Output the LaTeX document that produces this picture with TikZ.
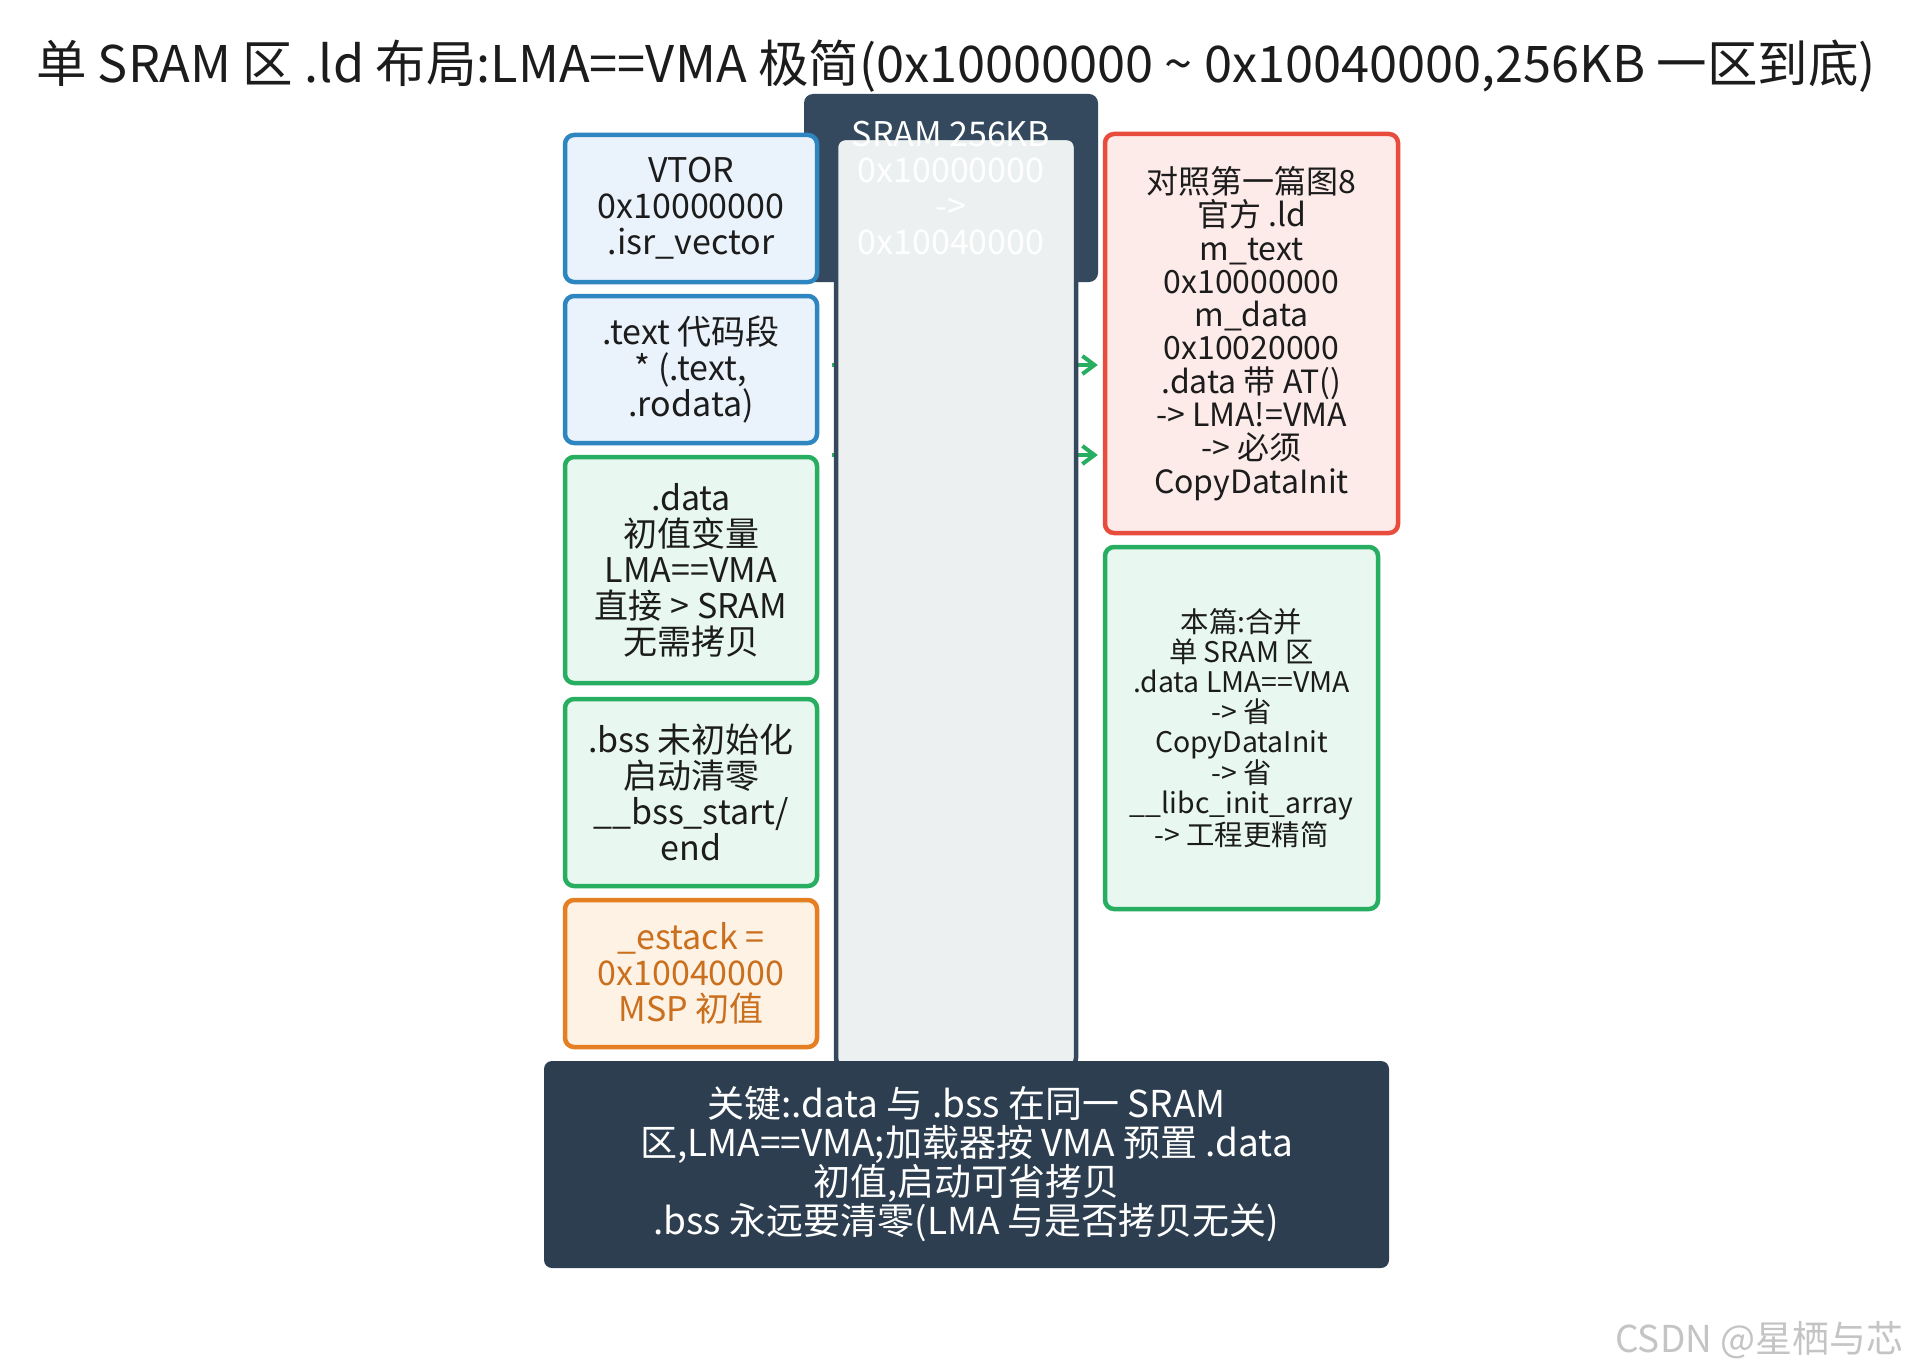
\documentclass[tikz,border=0pt]{standalone}
\usepackage{fontspec}
\setmainfont{Noto Sans CJK SC}
\usetikzlibrary{arrows.meta}
\definecolor{bluebd}{HTML}{2E86C1}
\definecolor{bluefl}{HTML}{EAF2FB}
\definecolor{greenbd}{HTML}{27AE60}
\definecolor{greenfl}{HTML}{E8F8F0}
\definecolor{orangebd}{HTML}{E67E22}
\definecolor{orangefl}{HTML}{FDF2E4}
\definecolor{orangetx}{HTML}{CA6F1E}
\definecolor{redbd}{HTML}{E74C3C}
\definecolor{redfl}{HTML}{FDEBEA}
\definecolor{headfl}{HTML}{34495E}
\definecolor{colfl}{HTML}{ECF0F1}
\definecolor{botfl}{HTML}{2C3E50}
\definecolor{txt}{HTML}{1C1C1C}
\definecolor{wm}{HTML}{C4C4C4}
\begin{document}
\begin{tikzpicture}[x=1pt,y=-1pt,
  box/.style={draw, line width=4.5pt, rounded corners=9pt, align=center, inner sep=0pt, text=txt},
  leftbox/.style={box, minimum width=252pt, font=\fontsize{34}{36}\selectfont},
  bluebox/.style={leftbox, draw=bluebd, fill=bluefl},
  greenbox/.style={leftbox, draw=greenbd, fill=greenfl},
  orangebox/.style={leftbox, draw=orangebd, fill=orangefl, text=orangetx},
  arr/.style={draw=greenbd, line width=4pt, -{Straight Barb[length=12pt,width=18pt]}}
]
\useasboundingbox[fill=white] (0,0) rectangle (1913,1372);

% arrows behind the SRAM column
\coordinate (t1) at (832,365);
\coordinate (t2) at (832,455);

% right boxes (defined early for arrow targets)
\node[box, draw=redbd, fill=redfl, minimum width=293pt, minimum height=399pt,
  font=\fontsize{32}{33.3}\selectfont] (ref) at (1251.5,333.5)
  {对照第一篇图8\\官方 .ld\\m\_text\\0x10000000\\m\_data\\0x10020000\\.data 带 AT()\\-> LMA!=VMA\\-> 必须\\CopyDataInit};
\node[box, draw=greenbd, fill=greenfl, minimum width=273pt, minimum height=362pt,
  font=\fontsize{28.4}{30}\selectfont] (this) at (1241.5,728)
  {本篇:合并\\单 SRAM 区\\.data LMA==VMA\\-> 省\\CopyDataInit\\-> 省\\\_\_libc\_init\_array\\-> 工程更精简};

\draw[arr, shorten >=5pt] (t1) -- (t1 -| ref.west);
\draw[arr, shorten >=5pt] (t2) -- (t2 -| ref.west);

% SRAM header and column
\node[fill=headfl, rounded corners=9pt, minimum width=294pt, minimum height=188pt, inner sep=0pt] (head) at (951,188) {};
\node[draw=headfl, fill=colfl, line width=4.5pt, rounded corners=9pt, minimum width=240pt, minimum height=929pt, inner sep=0pt] (col) at (956,602.5) {};
\node[text=white, align=center, font=\fontsize{34}{36}\selectfont] (headtxt) at (head.center) {SRAM 256KB\\0x10000000\\->\\0x10040000};

% left boxes
\node[bluebox, minimum height=147pt] (vtor) at (691,208.5) {VTOR\\0x10000000\\.isr\_vector};
\node[bluebox, minimum height=147pt] (text) at (691,369.5) {.text 代码段\\* (.text,\\.rodata)};
\node[greenbox, minimum height=226pt] (data) at (691,570) {.data\\初值变量\\LMA==VMA\\直接 > SRAM\\无需拷贝};
\node[greenbox, minimum height=187pt] (bss) at (691,792.5) {.bss 未初始化\\启动清零\\\_\_bss\_start/\\end};
\node[orangebox, minimum height=147pt] (estack) at (691,973.5) {\_estack =\\0x10040000\\MSP 初值};

% bottom summary
\node[fill=botfl, rounded corners=8pt, minimum width=845pt, minimum height=207pt, inner sep=0pt,
  text=white, align=center, font=\fontsize{37}{39}\selectfont] (key) at (966.5,1164.5)
  {关键:.data 与 .bss 在同一 SRAM\\区,LMA==VMA;加载器按 VMA 预置 .data\\初值,启动可省拷贝\\.bss 永远要清零(LMA 与是否拷贝无关)};

% title
\node[text=txt, font=\fontsize{50.5}{54}\selectfont] (title) at (956,66)
  {单 SRAM 区 .ld 布局:LMA==VMA 极简(0x10000000 \textasciitilde{} 0x10040000,256KB 一区到底)};

% watermark
\node[text=wm, font=\fontsize{37}{40}\selectfont, anchor=east] (wmark) at (1907,1340) {CSDN @星栖与芯};
\end{tikzpicture}
\end{document}
